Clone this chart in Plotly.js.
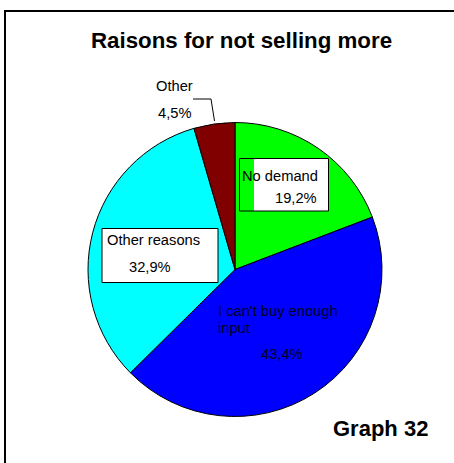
<!DOCTYPE html>
<html>
<head>
<meta charset="utf-8">
<script src="https://cdn.plot.ly/plotly-3.0.1.min.js"></script>
<style>
  html, body { margin: 0; padding: 0; background: #fff; }
  #chart { width: 454px; height: 463px; }
</style>
</head>
<body>
<div id="chart"></div>
<script>
// ---- data ----
const categories = ['No demand', "I can't buy enough input", 'Other reasons', 'Other'];
const labelLines = [['No demand'], ["I can't buy enough", 'input'], ['Other reasons'], ['Other']];
const values = [19.2, 43.4, 32.9, 4.5];
const valueLabels = ['19,2%', '43,4%', '32,9%', '4,5%'];
const chartTitle = 'Raisons for not selling more';
const graphLabel = 'Graph 32';

// ---- layout helpers (pixel -> paper) ----
const W = 454, H = 463;
const px = x => x / W;
const py = y => 1 - y / H;

const font = 'Liberation Sans, Arial, sans-serif';
const lab = (text, x, y, size, color, bold) => ({
  text: bold ? '<b>' + text + '</b>' : text,
  x: px(x), y: py(y), xref: 'paper', yref: 'paper',
  xanchor: 'left', yanchor: 'middle', showarrow: false,
  font: { family: font, size: size, color: color || '#000' }
});

const annotations = [
  { text: '<b>' + chartTitle + '</b>', x: px(241.5), y: py(41), xref: 'paper', yref: 'paper',
    xanchor: 'center', yanchor: 'middle', showarrow: false,
    font: { family: font, size: 22.3, color: '#000' } },
  lab(graphLabel, 331, 428, 22, '#000', true),
  // No demand
  lab(labelLines[0][0], 240, 176, 14.7),
  lab(valueLabels[0], 273, 198, 14.7),
  // I can't buy enough input
  lab(labelLines[1][0], 216, 311, 14.7, '#000020'),
  lab(labelLines[1][1], 216, 328, 14.7, '#000020'),
  lab(valueLabels[1], 259, 354, 14.7, '#000020'),
  // Other reasons
  lab(labelLines[2][0], 105, 240, 14.7),
  lab(valueLabels[2], 127, 267, 14.7),
  // Other
  lab(labelLines[3][0], 154, 86, 14.7),
  lab(valueLabels[3], 156, 113, 14.7)
];

const rect = (x0, y0, x1, y1, fill, lw) => ({
  type: 'rect', xref: 'paper', yref: 'paper',
  x0: px(x0), x1: px(x1), y0: py(y0), y1: py(y1),
  fillcolor: fill, line: { color: '#000', width: lw }, layer: 'above'
});

const shapes = [
  // outer frame (left and top edges visible; rest falls outside the window)
  { type: 'path', xref: 'paper', yref: 'paper',
    path: 'M ' + px(5) + ',' + py(480) + ' L ' + px(5) + ',' + py(11) + ' L ' + px(470) + ',' + py(11),
    line: { color: '#000', width: 2 } },
  // No demand box
  { type: 'rect', xref: 'paper', yref: 'paper', x0: px(254), x1: px(328.5), y0: py(158.5), y1: py(211),
    fillcolor: '#fff', line: { width: 0 }, layer: 'above' },
  rect(239.5, 158.5, 328.5, 211, 'rgba(0,0,0,0)', 1),
  // Other reasons box
  rect(102, 228.5, 218, 282.5, '#fff', 1),
  // leader line for Other
  { type: 'path', xref: 'paper', yref: 'paper',
    path: 'M ' + px(193) + ',' + py(99) + ' L ' + px(211) + ',' + py(99) + ' L ' + px(214.5) + ',' + py(121),
    line: { color: '#000', width: 1 } }
];

const trace = {
  type: 'pie',
  labels: categories,
  values: values,
  sort: false,
  direction: 'clockwise',
  rotation: 0,
  textinfo: 'none',
  hoverinfo: 'label+percent',
  marker: { colors: ['#00FF00', '#0000FF', '#00FFFF', '#800000'], line: { color: '#000', width: 1 } },
  domain: { x: [px(88), px(382)], y: [py(417), py(122)] },
  showlegend: false
};

const layout = {
  width: W, height: H,
  margin: { l: 0, r: 0, t: 0, b: 0 },
  paper_bgcolor: '#fff',
  showlegend: false,
  annotations: annotations,
  shapes: shapes
};

Plotly.newPlot('chart', [trace], layout, { displayModeBar: false, staticPlot: true });
</script>
</body>
</html>
